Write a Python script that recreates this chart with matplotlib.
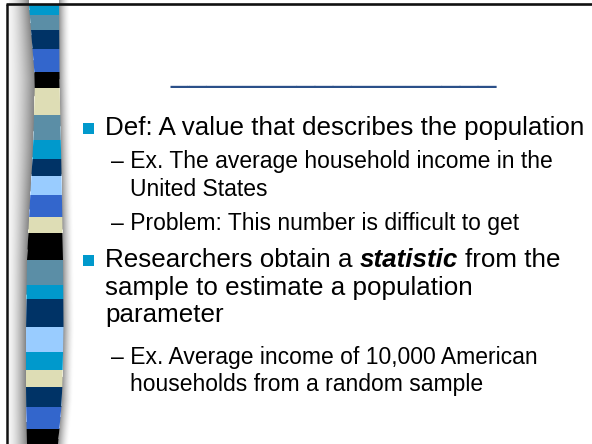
import numpy as np
import matplotlib
matplotlib.use("Agg")
import matplotlib.pyplot as plt
from matplotlib.patches import Polygon, Rectangle

plt.rcParams['font.family'] = ['Liberation Sans', 'DejaVu Sans']

W, H = 592, 444

# ribbon stripes, top to bottom (pixel rows of the boundaries)
stripe_bounds = [5, 15, 30, 49, 72, 88, 115, 140, 159, 176, 195, 217,
                 233, 260, 285, 299, 327, 352, 370, 387, 407, 429, 444]
stripe_colors = ['#0099cc', '#5b8ea6', '#003366', '#3366cc', '#000000', '#deddb5',
                 '#5b8ea6', '#0099cc', '#003366', '#99ccff', '#3366cc', '#deddb5',
                 '#000000', '#5b8ea6', '#0099cc', '#003366', '#99ccff', '#0099cc',
                 '#deddb5', '#003366', '#3366cc', '#000000']

# ribbon outline (left / right edge at a few rows)
edge_y = [5, 80, 150, 200, 260, 330, 400, 444]
edge_l = [29, 35, 33, 30, 27, 26, 26, 27]
edge_r = [59, 59.5, 61, 62, 63, 63.5, 62, 58]

title = "_" * 18
main_lines = [
    ("bullet", "Def: A value that describes the population", 135),
    ("sub", "\u2013 Ex. The average household income in the", 168),
    ("cont", "United States", 196),
    ("sub", "\u2013 Problem: This number is difficult to get", 230),
]
tail_lines = [
    ("cont_main", "sample to estimate a population", 295),
    ("cont_main", "parameter", 322),
    ("sub", "\u2013 Ex. Average income of 10,000 American", 364),
    ("cont", "households from a random sample", 391),
]

fig = plt.figure(figsize=(W / 100, H / 100), dpi=100)
ax = fig.add_axes([0, 0, 1, 1])
ax.set_xlim(0, W)
ax.set_ylim(H, 0)
ax.axis('off')

# grey shading around the ribbon
img = np.ones((H, W, 3))
xs = np.arange(W) + 0.5
for row in range(H):
    y = row + 0.5
    L = np.interp(y, edge_y, edge_l)
    R = np.interp(y, edge_y, edge_r)
    m = (xs >= 9) & (xs < L)
    t = (xs[m] - 9) / (L - 9)
    img[row, m, :] = (0.96 - 0.44 * t ** 1.5)[:, None]
    m = (xs > R) & (xs < R + 11)
    t = 1 - (xs[m] - R) / 11
    img[row, m, :] = (1 - 0.42 * t ** 1.6)[:, None]
ax.imshow(img, extent=(0, W, H, 0), aspect='auto', zorder=0, interpolation='bilinear')

for top, bot, col in zip(stripe_bounds[:-1], stripe_bounds[1:], stripe_colors):
    pts = [(np.interp(top, edge_y, edge_l), top), (np.interp(top, edge_y, edge_r), top),
           (np.interp(bot, edge_y, edge_r), bot), (np.interp(bot, edge_y, edge_l), bot)]
    ax.add_patch(Polygon(pts, closed=True, facecolor=col, edgecolor='none', zorder=2))

# slide frame
ax.plot([7, 7], [4, H], color='#111111', lw=1.8, solid_capstyle='butt', zorder=3)
ax.plot([6, W], [4.5, 4.5], color='#111111', lw=1.9, solid_capstyle='butt', zorder=3)

ax.text(334, 81.5, title, fontsize=23.5, color='#2b5089', ha='center', va='baseline')

main_fs, sub_fs = 18.7, 16.5
bullet_col = '#0099cc'


def draw_lines(lines):
    for kind, txt, base in lines:
        if kind == "bullet":
            ax.add_patch(Rectangle((83, base - 12), 11, 10.5, facecolor=bullet_col,
                                   edgecolor='none'))
            ax.text(105, base, txt, fontsize=main_fs, va='baseline')
        elif kind == "cont_main":
            ax.text(105, base, txt, fontsize=main_fs, va='baseline')
        elif kind == "sub":
            ax.text(111, base, txt, fontsize=sub_fs, va='baseline')
        else:
            ax.text(130, base, txt, fontsize=sub_fs, va='baseline')


draw_lines(main_lines)

# second bullet with bold italic word
ax.add_patch(Rectangle((83, 267 - 12), 11, 10.5, facecolor=bullet_col, edgecolor='none'))
sp = 0.278 * main_fs
t1 = ax.text(105, 267, "Researchers obtain a", fontsize=main_fs, va='baseline')
t2 = ax.annotate("statistic", xy=(1, 0), xycoords=t1, xytext=(sp, 0),
                 textcoords='offset points', fontsize=main_fs, va='bottom',
                 weight='bold', style='italic')
ax.annotate("from the", xy=(1, 0), xycoords=t2, xytext=(sp, 0),
            textcoords='offset points', fontsize=main_fs, va='bottom')

draw_lines(tail_lines)

fig.savefig('out.png', dpi=100)
